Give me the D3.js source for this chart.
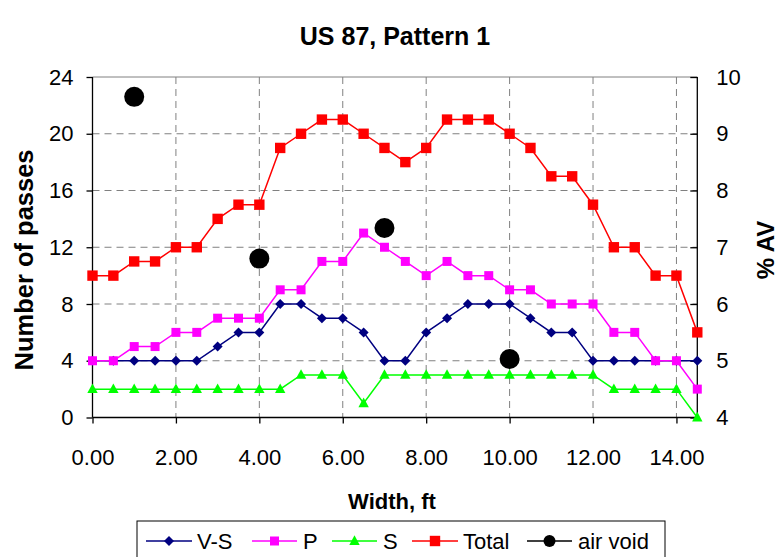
<!DOCTYPE html>
<html><head><meta charset="utf-8">
<script src="https://cdn.jsdelivr.net/npm/d3@7"></script>
<style>
body{margin:0;background:#fff}
svg{display:block}
text{font-family:Arial,"Liberation Sans",sans-serif;fill:#000}
</style>
</head><body>
<svg id="c" width="779" height="557"></svg>
<script>
// ---- data ----
const widths = [0,0.5,1,1.5,2,2.5,3,3.5,4,4.5,5,5.5,6,6.5,7,7.5,8,8.5,9,9.5,10,10.5,11,11.5,12,12.5,13,13.5,14,14.5];
const vsPasses    = [4,4,4,4,4,4,5,6,6,8,8,7,7,6,4,4,6,7,8,8,8,7,6,6,4,4,4,4,4,4];
const pPasses     = [4,4,5,5,6,6,7,7,7,9,9,11,11,13,12,11,10,11,10,10,9,9,8,8,8,6,6,4,4,2];
const sPasses     = [2,2,2,2,2,2,2,2,2,2,3,3,3,1,3,3,3,3,3,3,3,3,3,3,3,2,2,2,2,0];
const totalPasses = [10,10,11,11,12,12,14,15,15,19,20,21,21,20,19,18,19,21,21,21,20,19,17,17,15,12,12,10,10,6];
const airVoidWidths = [1,4,7,10];
const airVoid       = [9.65,6.8,7.34,5.03];
const xTickValues = [0,2,4,6,8,10,12,14];
const xTickLabels = ["0.00","2.00","4.00","6.00","8.00","10.00","12.00","14.00"];
const yLeftTicks  = [0,4,8,12,16,20,24];
const yRightTicks = [4,5,6,7,8,9,10];
const seriesNames = ["V-S","P","S","Total","air void"];

// ---- layout ----
const svg = d3.select("#c");
const L = 92.5, R = 697.3, T = 77, B = 417.5;
const x  = d3.scaleLinear().domain([0,14.5]).range([L,R]);
const yL = d3.scaleLinear().domain([0,24]).range([B,T]);
const yR = d3.scaleLinear().domain([4,10]).range([B,T]);

// grid
const g = svg.append("g");
g.selectAll(".hg").data(yLeftTicks.filter(v=>v>0&&v<24)).enter().append("line")
  .attr("x1",L).attr("x2",R).attr("y1",d=>yL(d)).attr("y2",d=>yL(d))
  .attr("stroke","#808080").attr("stroke-width",1).attr("stroke-dasharray","7,5");
g.selectAll(".vg").data(xTickValues.filter(v=>v>0)).enter().append("line")
  .attr("x1",d=>x(d)).attr("x2",d=>x(d)).attr("y1",T).attr("y2",B)
  .attr("stroke","#808080").attr("stroke-width",1).attr("stroke-dasharray","7,5");
g.append("line").attr("x1",L).attr("x2",R).attr("y1",T).attr("y2",T).attr("stroke","#808080");

// axes
const fs = 22;
const axL = svg.append("g").attr("transform",`translate(${L},0)`)
  .call(d3.axisLeft(yL).tickValues(yLeftTicks).tickSize(6).tickPadding(13).tickFormat(d3.format("d")));
const axB = svg.append("g").attr("transform",`translate(0,${B})`)
  .call(d3.axisBottom(x).tickValues(xTickValues).tickSize(6).tickPadding(26).tickFormat((d,i)=>xTickLabels[i]));
const axR = svg.append("g").attr("transform",`translate(${R},0)`)
  .call(d3.axisRight(yR).tickValues(yRightTicks).tickSize(-7).tickPadding(19).tickFormat(d3.format("d")));
[axL,axB,axR].forEach(a=>{
  a.select(".domain").attr("stroke","#000").attr("stroke-width",1.3);
  a.selectAll(".tick line").attr("stroke","#000").attr("stroke-width",1.3);
  a.selectAll("text").attr("font-size",fs).attr("font-family","Arial, 'Liberation Sans', sans-serif");
});
axR.select(".domain").attr("d",`M0,${T}V${B}`);
axL.select(".domain").attr("d",`M0,${T}V${B}`);
axB.select(".domain").attr("d",`M${L},0H${R}`);

// markers
function diamond(r){return `M0,${-r}L${r},0L0,${r}L${-r},0Z`;}
function square(r){return `M${-r},${-r}H${r}V${r}H${-r}Z`;}
function tri(r){return `M0,${-r*1.1}L${r},${r*0.75}L${-r},${r*0.75}Z`;}

const series = [
  {name:"V-S", vals:vsPasses, color:"#000080", shape:diamond(5)},
  {name:"P", vals:pPasses, color:"#FF00FF", shape:square(4.5)},
  {name:"S", vals:sPasses, color:"#00FF00", shape:tri(5.2)},
  {name:"Total", vals:totalPasses, color:"#FF0000", shape:square(5.2)}
];
const line = d3.line().x(d=>x(d[0])).y(d=>yL(d[1]));
series.forEach(s=>{
  const pts = widths.map((w,i)=>[w,s.vals[i]]);
  svg.append("path").attr("d",line(pts)).attr("fill","none").attr("stroke",s.color).attr("stroke-width",1.5);
  svg.append("g").selectAll("path").data(pts).enter().append("path")
    .attr("d",s.shape).attr("transform",d=>`translate(${x(d[0])},${yL(d[1])})`).attr("fill",s.color);
});
svg.append("g").selectAll("circle").data(airVoidWidths.map((w,i)=>[w,airVoid[i]])).enter().append("circle")
  .attr("cx",d=>x(d[0])).attr("cy",d=>yR(d[1])).attr("r",10).attr("fill","#000");

// titles
svg.append("text").attr("x",395).attr("y",45).attr("text-anchor","middle")
  .attr("font-size",25).attr("font-weight","bold").text("US 87, Pattern 1");
svg.append("text").attr("transform","translate(33,260) rotate(-90)").attr("text-anchor","middle")
  .attr("font-size",25.5).attr("font-weight","bold").text("Number of passes");
svg.append("text").attr("transform","translate(774,250) rotate(-90)").attr("text-anchor","middle")
  .attr("font-size",24).attr("font-weight","bold").text("% AV");
svg.append("text").attr("x",392).attr("y",509).attr("text-anchor","middle")
  .attr("font-size",22).attr("font-weight","bold").text("Width, ft");

// legend
const lg = svg.append("g");
lg.append("rect").attr("x",137).attr("y",521).attr("width",528).attr("height",50)
  .attr("fill","#fff").attr("stroke","#000").attr("stroke-width",1);
const legItems = [
  {x1:146, x2:192, tx:197, color:"#000080", shape:diamond(5)},
  {x1:252, x2:297, tx:303, color:"#FF00FF", shape:square(4.5)},
  {x1:332, x2:377, tx:383, color:"#00FF00", shape:tri(5.2)},
  {x1:412, x2:458, tx:463, color:"#FF0000", shape:square(5.2)},
  {x1:527, x2:572, tx:578, color:"#000", shape:null}
];
const ly = 541;
legItems.forEach((it,i)=>{
  lg.append("line").attr("x1",it.x1).attr("x2",it.x2).attr("y1",ly).attr("y2",ly).attr("stroke",it.color).attr("stroke-width",1.5);
  const cx = (it.x1+it.x2)/2;
  if(it.shape) lg.append("path").attr("d",it.shape).attr("transform",`translate(${cx},${ly})`).attr("fill",it.color);
  else lg.append("circle").attr("cx",cx).attr("cy",ly).attr("r",6).attr("fill","#000");
  lg.append("text").attr("x",it.tx).attr("y",ly).attr("dy","0.36em").attr("font-size",22).text(seriesNames[i]);
});
</script>
</body></html>
